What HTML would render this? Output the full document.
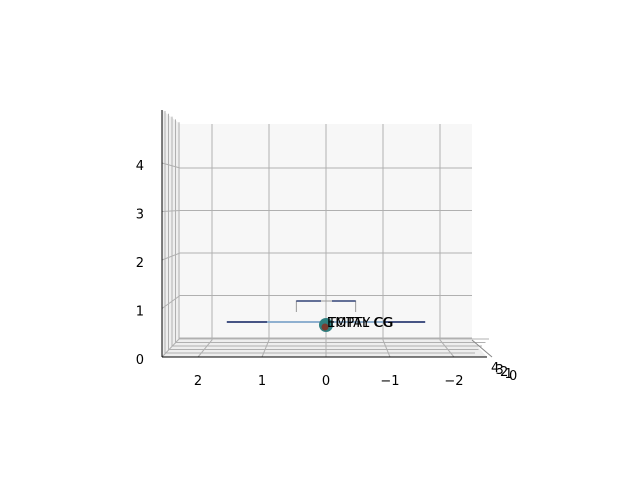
<!DOCTYPE html>
<html><head><meta charset="utf-8"><style>
body{margin:0;background:#fff}
text{font-family:"DejaVu Sans","Liberation Sans",sans-serif;font-size:13px;fill:#000}
</style></head><body>
<svg width="640" height="480" viewBox="0 0 640 480">
<g>
<polygon points="180,124 472,124 472,340 180,340" fill="#f7f7f7"/>
<polygon points="162,110 180,124 180,340 162,357" fill="#efefef"/>
<polygon points="162,357 180,340 472,340 487,357" fill="#eeeeee"/>
</g>
<g id="grid" stroke="#b0b0b0" stroke-width="1" fill="none"></g>
<g stroke="#000" stroke-width="1">
<line x1="162" y1="110" x2="162" y2="357"/>
<line x1="162" y1="357" x2="487" y2="357"/>
<line x1="472" y1="340" x2="492" y2="357" stroke="#888"/>
</g>
<g id="ticks"></g>
<g id="data"></g>
</svg>
<script>
const xTicks=[2,1,0,-1,-2];
const zTicks=[0,1,2,3,4];
const yTicks=[4,3,2,1,0];
const wingSpan=[1.55,-1.55];
const tailSpan=[0.52,-0.52];
const cgX=0;
const cgZ=0.66;
const NS="http://www.w3.org/2000/svg";
function bx(x){return 326-57*x;}
function fx(x){return 326-64*x;}
function bz(z){return 338-42.5*z;}
function lz(z){return 357-48.5*z;}
function mk(p,t,a){const e=document.createElementNS(NS,t);for(const k in a)e.setAttribute(k,a[k]);p.appendChild(e);return e;}
const g=document.getElementById('grid'),tk=document.getElementById('ticks'),d=document.getElementById('data');
xTicks.forEach(x=>{const l=mk(g,'polyline',{points:`${bx(x)},124 ${bx(x)},340 ${fx(x)},357`});


const t=mk(tk,'text',{x:fx(x),y:385,'text-anchor':'middle'});t.textContent=x<0?'\u2212'+(-x):x;

});
zTicks.forEach(z=>{const l=mk(g,'polyline',{points:`162,${lz(z)} 180,${bz(z)} 472,${bz(z)}`});


const t=mk(tk,'text',{x:144,y:lz(z)+7,'text-anchor':'end'});t.textContent=z;

});
yTicks.forEach((y,i)=>{const o=i*3.5;
const l=mk(g,'polyline',{points:`${165+o},${111+o*0.8} ${165+o},${353-o} ${475+o},${353-o}`});


const t=mk(tk,'text',{x:491+i*4.5,y:372+i*2});t.textContent=y;

});
let e=mk(d,'line',{x1:fx(wingSpan[0]),y1:322,x2:fx(wingSpan[1]),y2:322,stroke:'#0b1f5e','stroke-width':1.5});


e=mk(d,'line',{x1:267,y1:322,x2:385,y2:322,stroke:'#8fb0d0','stroke-width':2});


e=mk(d,'polyline',{points:`${bx(tailSpan[0])},312 ${bx(tailSpan[0])},301 ${bx(tailSpan[1])},301 ${bx(tailSpan[1])},312`,fill:'none',stroke:'#999','stroke-width':1});


e=mk(d,'line',{x1:bx(tailSpan[0]),y1:301,x2:321,y2:301,stroke:'#0b1f5e','stroke-width':1.2});


e=mk(d,'line',{x1:332,y1:301,x2:bx(tailSpan[1]),y2:301,stroke:'#0b1f5e','stroke-width':1.2});


const cy=lz(cgZ);
e=mk(d,'circle',{cx:fx(cgX),cy:cy,r:7,fill:'#2f7f80'});


e=mk(d,'circle',{cx:fx(cgX)-1,cy:cy+2,r:3.5,fill:'#7a3b30'});


['EMPTY CG','TOTAL CG'].forEach((s,i)=>{const t=mk(d,'text',{x:fx(cgX)+1+i,y:cy+2});t.textContent=s;

});
</script>
</body></html>
